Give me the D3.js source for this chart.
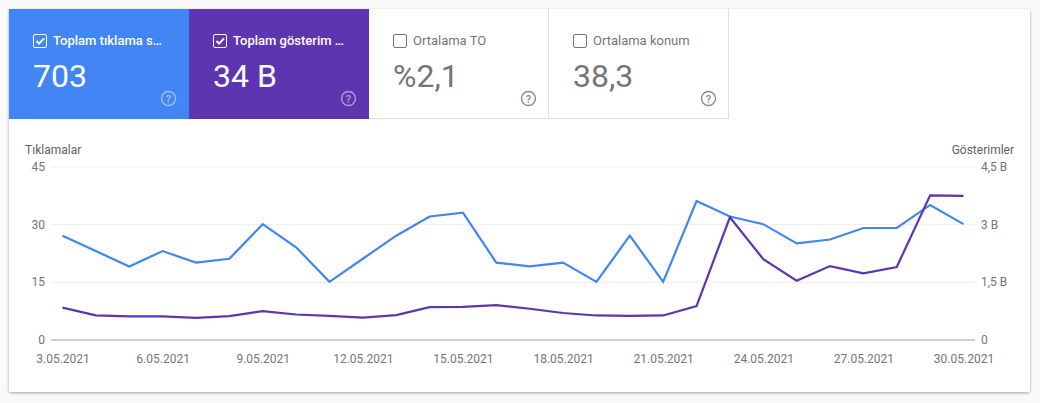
<!DOCTYPE html>
<html><head><meta charset="utf-8">
<script src="https://cdn.jsdelivr.net/npm/d3@7/dist/d3.min.js"></script>
<style>
html,body{margin:0;padding:0;background:#f9f9f9;overflow:hidden}
svg{display:block}
text{font-family:Roboto,sans-serif}
</style></head><body>
<svg id="c" width="1040" height="403"></svg>
<script>
const dates=["3.05.2021","4.05.2021","5.05.2021","6.05.2021","7.05.2021","8.05.2021","9.05.2021","10.05.2021","11.05.2021","12.05.2021","13.05.2021","14.05.2021","15.05.2021","16.05.2021","17.05.2021","18.05.2021","19.05.2021","20.05.2021","21.05.2021","22.05.2021","23.05.2021","24.05.2021","25.05.2021","26.05.2021","27.05.2021","28.05.2021","29.05.2021","30.05.2021"];
const clicks=[27,23,19,23,20,21,30,24,15,21,27,32,33,20,19,20,15,27,15,36,32,30,25,26,29,29,35,30];
const impressions=[0.83,0.63,0.60,0.60,0.565,0.61,0.74,0.65,0.615,0.57,0.635,0.84,0.85,0.895,0.80,0.69,0.625,0.617,0.625,0.87,3.18,2.09,1.53,1.91,1.72,1.885,3.75,3.735];
const xTickDates=["3.05.2021","6.05.2021","9.05.2021","12.05.2021","15.05.2021","18.05.2021","21.05.2021","24.05.2021","27.05.2021","30.05.2021"];
const leftTicks=[0,15,30,45];
const rightTicks=[0,1.5,3,4.5];
const rightTickLabels=["0","1,5 B","3 B","4,5 B"];
const tileLabels=["Toplam tıklama s…","Toplam gösterim …","Ortalama TO","Ortalama konum"];
const tileValues=["703","34 B","%2,1","38,3"];
const tileChecked=[true,true,false,false];
const tileFills=["#4285f4","#5e35b1","#ffffff","#ffffff"];
const clickColor="#4285f4", imprColor="#5e35b1";

const svg=d3.select("#c");
const defs=svg.append("defs");
const f=defs.append("filter").attr("id","sh").attr("x","-3%").attr("y","-3%").attr("width","106%").attr("height","106%");
f.append("feDropShadow").attr("dx",0).attr("dy",1).attr("stdDeviation",1.6).attr("flood-color","#000").attr("flood-opacity",0.35);
svg.append("rect").attr("x",9).attr("y",9).attr("width",1021).attr("height",383).attr("rx",2).attr("fill","#fff").attr("filter","url(#sh)");

// tiles
const tileX=d3.scaleBand().domain(d3.range(4)).range([9,729]);
const tiles=svg.selectAll("g.tile").data(tileLabels).join("g").attr("class","tile")
  .attr("transform",(d,i)=>`translate(${tileX(i)},9)`);
tiles.append("rect").attr("width",tileX.bandwidth()).attr("height",110).attr("fill",(d,i)=>tileFills[i]);
tiles.filter((d,i)=>!tileChecked[i]).append("path")
  .attr("d","M0 109.5H179.5V0")
  .attr("fill","none").attr("stroke","#e0e0e0").attr("stroke-width",1);
tiles.append("rect").attr("x",24.5).attr("y",25.5).attr("width",13).attr("height",13).attr("rx",1.5)
  .attr("fill","none").attr("stroke",(d,i)=>tileChecked[i]?"#fff":"#757575").attr("stroke-width",1);
tiles.filter((d,i)=>tileChecked[i]).append("path").attr("d","M27.5 32l2.6 2.6 5-5.2")
  .attr("fill","none").attr("stroke","#fff").attr("stroke-width",1.9);
tiles.append("text").attr("x",44).attr("y",36).attr("font-size",13)
  .attr("font-weight",(d,i)=>tileChecked[i]?500:400)
  .attr("fill",(d,i)=>tileChecked[i]?"#fff":"#757575").text(d=>d);
tiles.append("text").attr("x",24).attr("y",78).attr("font-size",32)
  .attr("fill",(d,i)=>tileChecked[i]?"#fff":"#757575").text((d,i)=>tileValues[i]);
const help=tiles.append("g").attr("transform","translate(159.5,89.5)")
  .attr("opacity",(d,i)=>tileChecked[i]?0.5:1);
help.append("circle").attr("r",7).attr("fill","none").attr("stroke",(d,i)=>tileChecked[i]?"#fff":"#8a8a8a").attr("stroke-width",1.4);
help.append("text").attr("text-anchor","middle").attr("y",4).attr("font-size",11).attr("font-weight",500)
  .attr("fill",(d,i)=>tileChecked[i]?"#fff":"#8a8a8a").text("?");

// chart
const x=d3.scalePoint().domain(dates).range([62.5,963.5]);
const yL=d3.scaleLinear().domain([0,45]).range([339.5,166.5]);
const yR=d3.scaleLinear().domain([0,4.5]).range([339.5,166.5]);

const gridG=svg.append("g").attr("transform","translate(51,0)")
  .call(d3.axisLeft(yL).tickValues(leftTicks).tickSize(-924).tickPadding(6).tickFormat(d=>d));
gridG.select(".domain").remove();
gridG.selectAll(".tick line").attr("stroke",d=>d===0?"#9e9e9e":"#eeeeee");
gridG.selectAll(".tick text").attr("font-size",12).attr("font-family","Roboto,sans-serif").attr("fill","#757575").attr("x",-6);

const rG=svg.append("g").attr("transform","translate(975,0)")
  .call(d3.axisRight(yR).tickValues(rightTicks).tickSize(0).tickPadding(6).tickFormat((d,i)=>rightTickLabels[i]));
rG.select(".domain").remove();
rG.selectAll(".tick text").attr("font-size",12).attr("font-family","Roboto,sans-serif").attr("fill","#757575");

const xG=svg.append("g").attr("transform","translate(0,339.5)")
  .call(d3.axisBottom(x).tickValues(xTickDates).tickSize(0).tickPadding(15));
xG.select(".domain").remove();
xG.selectAll(".tick text").attr("font-size",12).attr("font-family","Roboto,sans-serif").attr("fill","#757575");

svg.append("text").attr("x",25).attr("y",154).attr("font-size",12).attr("fill","#616161").text("Tıklamalar");
svg.append("text").attr("x",1014).attr("y",154).attr("text-anchor","end").attr("font-size",12).attr("fill","#616161").text("Gösterimler");

const lineL=d3.line().x((d,i)=>x(dates[i])).y(d=>yL(d));
const lineR=d3.line().x((d,i)=>x(dates[i])).y(d=>yR(d));
svg.append("path").datum(clicks).attr("d",lineL).attr("fill","none").attr("stroke",clickColor).attr("stroke-width",2.2);
svg.append("path").datum(impressions).attr("d",lineR).attr("fill","none").attr("stroke",imprColor).attr("stroke-width",2.2);
</script></body></html>
